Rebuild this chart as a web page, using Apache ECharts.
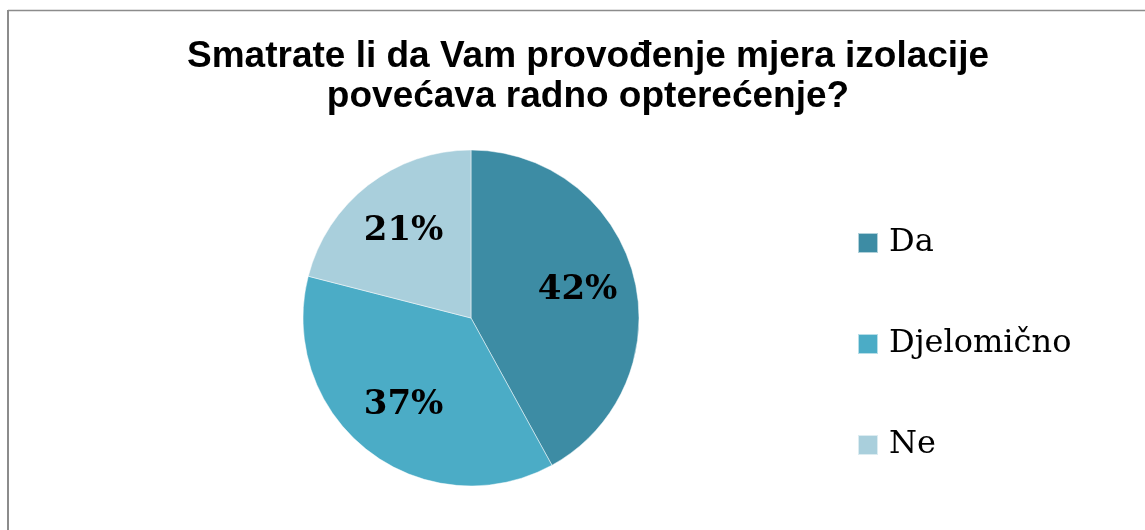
<!DOCTYPE html>
<html>
<head>
<meta charset="utf-8">
<script src="https://cdn.jsdelivr.net/npm/echarts@6/dist/echarts.min.js"></script>
<style>
  html, body { margin: 0; padding: 0; background: #fff; }
  #chart { width: 1145px; height: 530px; }
</style>
</head>
<body>
<div id="chart"></div>
<script>
// podaci
var categories = ["Da", "Djelomično", "Ne"];
var values = [42, 37, 21];
var colors = ["#3d8ca4", "#4bacc6", "#a9cfdc"];
var titleText = "Smatrate li da Vam provođenje mjera izolacije\npovećava radno opterećenje?";

var pieData = categories.map(function (name, i) {
  return { name: name, value: values[i], itemStyle: { color: colors[i] } };
});
// nevidljivi krug samo za smještaj postotaka
var labelData = categories.map(function (name, i) {
  return { name: name, value: values[i] };
});

var chart = echarts.init(document.getElementById("chart"));
var option = {
  backgroundColor: "#fff",
  animation: false,
  title: {
    text: titleText,
    left: 583,
    textAlign: "center",
    top: 32,
    textStyle: {
      fontFamily: "Liberation Sans",
      fontWeight: "bold",
      fontSize: 37,
      lineHeight: 40,
      color: "#000",
    },
  },
  legend: {
    orient: "vertical",
    left: 857,
    top: 227,
    padding: 0,
    itemWidth: 20,
    itemHeight: 20,
    itemGap: 69,
    icon: "rect",
    data: categories,
    textStyle: {
      fontFamily: "DejaVu Serif",
      fontSize: 32,
      color: "#000",
      padding: [0, 0, 0, 6],
    },
  },
  graphic: [
    {
      type: "line",
      shape: { x1: 8, y1: 10.5, x2: 1145, y2: 10.5 },
      style: { stroke: "#8c8c8c", lineWidth: 1.5 },
    },
    {
      type: "line",
      shape: { x1: 8, y1: 10, x2: 8, y2: 530 },
      style: { stroke: "#8c8c8c", lineWidth: 2 },
    },
  ],
  series: [
    {
      name: "odgovori",
      type: "pie",
      center: [471, 318],
      radius: [0, 168],
      startAngle: 90,
      clockwise: true,
      silent: true,
      label: { show: false },
      labelLine: { show: false },
      itemStyle: { borderColor: "rgba(255,255,255,0.6)", borderWidth: 0.8 },
      data: pieData,
    },
    {
      name: "postoci",
      type: "pie",
      center: [471, 318],
      radius: [0, 214],
      startAngle: 90,
      clockwise: true,
      silent: true,
      itemStyle: { color: "rgba(0,0,0,0)" },
      label: {
        show: true,
        position: "inside",
        formatter: "{c}%",
        fontFamily: "DejaVu Serif",
        fontWeight: "bold",
        fontSize: 34,
        color: "#000",
      },
      labelLine: { show: false },
      data: labelData,
    },
  ],
};
chart.setOption(option);
</script>
</body>
</html>
